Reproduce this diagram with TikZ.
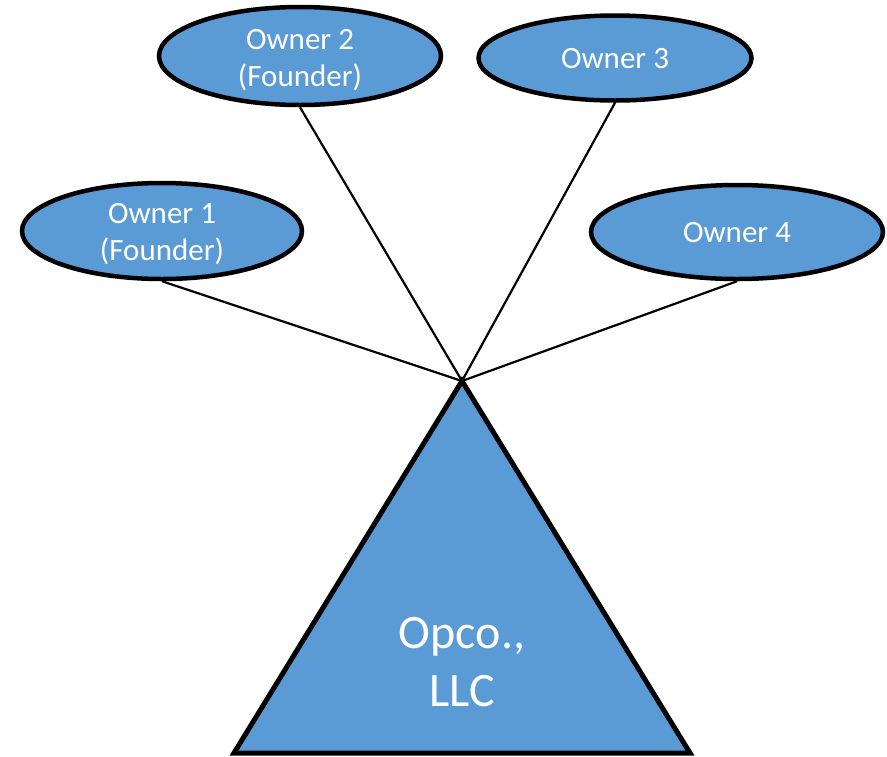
\documentclass[tikz,border=0pt]{standalone}
\usepackage{fontspec}
\setmainfont{Carlito}
\usetikzlibrary{shapes.geometric}
\definecolor{officeblue}{HTML}{5B9BD5}
\tikzset{
  owner/.style={ellipse, draw=black, fill=officeblue, line width=4.5pt, inner sep=0pt},
  ownertext/.style={text=white, align=center, inner sep=0pt, font=\fontsize{31}{37}\selectfont},
  link/.style={draw=black, line width=2.2pt}
}
\begin{document}
\begin{tikzpicture}[x=1pt,y=-1pt]
\useasboundingbox (0,0) rectangle (887,756);
\coordinate (apex) at (462,381);
\node[owner, minimum width=280pt, minimum height=96pt] (o1) at (162,231) {};
\node[owner, minimum width=282pt, minimum height=98pt] (o2) at (300,56) {};
\node[owner, minimum width=273pt, minimum height=85pt] (o3) at (615,58) {};
\node[owner, minimum width=292pt, minimum height=94pt] (o4) at (737,232) {};
\node[ownertext] (t1) at (162,234) {Owner 1\\(Founder)};
\node[ownertext] (t2) at (300,60) {Owner 2\\(Founder)};
\node[ownertext] (t3) at (615,59) {Owner 3};
\node[ownertext] (t4) at (737,233) {Owner 4};
\draw[line width=5pt, fill=officeblue, line join=miter] (apex) -- (690,753) -- (234,753) -- cycle;
\node[text=white, align=center, font=\fontsize{48}{58}\selectfont] (opco) at (462,662) {Opco.,\\LLC};
\draw[link] (apex) -- (o1.south);
\draw[link] (apex) -- (o2.south);
\draw[link] (apex) -- (o3.south);
\draw[link] (apex) -- (o4.south);
\end{tikzpicture}
\end{document}
